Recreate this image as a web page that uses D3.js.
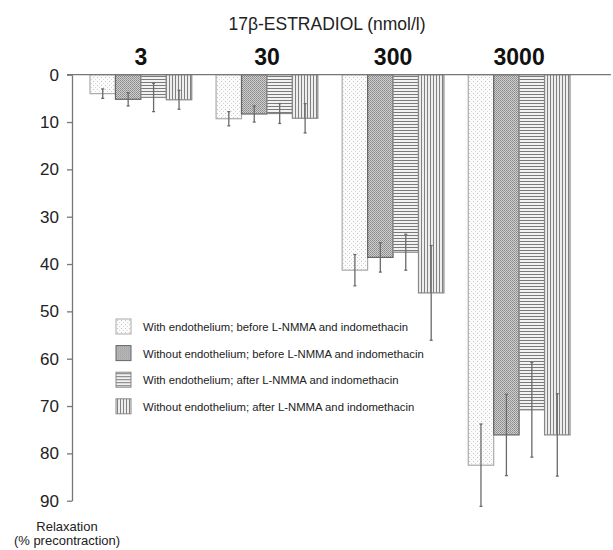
<!DOCTYPE html>
<html>
<head>
<meta charset="utf-8">
<script src="https://cdn.jsdelivr.net/npm/d3@7"></script>
<style>
  body { margin: 0; background: #fff; }
  text { font-family: "Liberation Sans", Arial, sans-serif; }
</style>
</head>
<body>
<div id="chart"></div>
<script>
// concentrations of 17beta-estradiol (nmol/l)
var concentrations = ["3", "30", "300", "3000"];

var seriesNames = [
    "With endothelium; before L-NMMA and indomethacin",
    "Without endothelium; before L-NMMA and indomethacin",
    "With endothelium; after L-NMMA and indomethacin",
    "Without endothelium; after L-NMMA and indomethacin"
];

// mean relaxation (% precontraction), one value per concentration
var withEndoBefore    = [4.0, 9.3, 41.3, 82.5];
var withoutEndoBefore = [5.2, 8.3, 38.6, 76.1];
var withEndoAfter     = [4.8, 8.2, 37.5, 70.8];
var withoutEndoAfter  = [5.3, 9.2, 46.1, 76.1];

// error bar half lengths
var errWithEndoBefore    = [1.0, 1.5, 3.3, 8.7];
var errWithoutEndoBefore = [1.4, 1.7, 3.1, 8.6];
var errWithEndoAfter     = [3.0, 2.1, 3.8, 10.0];
var errWithoutEndoAfter  = [2.0, 3.1, 10.0, 8.7];

var yTicks = [0, 10, 20, 30, 40, 50, 60, 70, 80, 90];

var means = [withEndoBefore, withoutEndoBefore, withEndoAfter, withoutEndoAfter];
var errs = [errWithEndoBefore, errWithoutEndoBefore, errWithEndoAfter, errWithoutEndoAfter];

var width = 613, height = 550;

var svg = d3.select("#chart").append("svg")
    .attr("width", width)
    .attr("height", height);

// fill patterns
var defs = svg.append("defs");

var p1 = defs.append("pattern").attr("id", "pat0")
    .attr("patternUnits", "userSpaceOnUse").attr("width", 4).attr("height", 4);
p1.append("rect").attr("width", 4).attr("height", 4).attr("fill", "#fbfbfb");
p1.append("rect").attr("x", 1).attr("y", 1).attr("width", 1).attr("height", 1).attr("fill", "#c4c4c4");
p1.append("rect").attr("x", 3).attr("y", 3).attr("width", 1).attr("height", 1).attr("fill", "#d8d8d8");

var p2 = defs.append("pattern").attr("id", "pat1")
    .attr("patternUnits", "userSpaceOnUse").attr("width", 2).attr("height", 2);
p2.append("rect").attr("width", 2).attr("height", 2).attr("fill", "#cfcfcf");
p2.append("rect").attr("width", 1).attr("height", 1).attr("fill", "#888");
p2.append("rect").attr("x", 1).attr("y", 1).attr("width", 1).attr("height", 1).attr("fill", "#999");

var p3 = defs.append("pattern").attr("id", "pat2")
    .attr("patternUnits", "userSpaceOnUse").attr("width", 3).attr("height", 3);
p3.append("rect").attr("width", 3).attr("height", 3).attr("fill", "#f2f2f2");
p3.append("rect").attr("y", 1).attr("width", 3).attr("height", 1).attr("fill", "#7a7a7a");

var p4 = defs.append("pattern").attr("id", "pat3")
    .attr("patternUnits", "userSpaceOnUse").attr("width", 3).attr("height", 3);
p4.append("rect").attr("width", 3).attr("height", 3).attr("fill", "#eee");
p4.append("rect").attr("x", 1).attr("width", 1).attr("height", 3).attr("fill", "#808080");

var strokes = ["#aaa", "#666", "#888", "#888"];

// scales
var x0 = d3.scaleBand()
    .domain(concentrations)
    .range([90, 570])
    .paddingInner(0.193)
    .paddingOuter(0);

var x1 = d3.scaleBand()
    .domain(d3.range(seriesNames.length))
    .range([0, x0.bandwidth()]);

var y = d3.scaleLinear()
    .domain([0, 90])
    .range([74.7, 500.7]);

// title
svg.append("text")
    .attr("x", 327)
    .attr("y", 30)
    .attr("text-anchor", "middle")
    .attr("font-size", "17.5px")
    .attr("fill", "#222")
    .text("17\u03B2-ESTRADIOL (nmol/l)");

// concentration labels
svg.selectAll(".conc")
    .data(concentrations)
    .enter().append("text")
    .attr("class", "conc")
    .attr("x", function(d) { return x0(d) + x0.bandwidth() / 2; })
    .attr("y", 65)
    .attr("text-anchor", "middle")
    .attr("font-size", "23px")
    .attr("font-weight", "bold")
    .attr("fill", "#111")
    .text(function(d) { return d; });

// bars
var rows = [];
means.forEach(function(vals, s) {
    vals.forEach(function(v, c) {
        rows.push({ s: s, c: concentrations[c], v: v, e: errs[s][c] });
    });
});

svg.selectAll(".bar")
    .data(rows)
    .enter().append("rect")
    .attr("class", "bar")
    .attr("x", function(d) { return x0(d.c) + x1(d.s); })
    .attr("y", y(0))
    .attr("width", x1.bandwidth())
    .attr("height", function(d) { return y(d.v) - y(0); })
    .attr("fill", function(d) { return "url(#pat" + d.s + ")"; })
    .attr("stroke", function(d) { return strokes[d.s]; })
    .attr("stroke-width", 1.2);

// error bars
var eb = svg.selectAll(".err")
    .data(rows)
    .enter().append("g")
    .attr("class", "err")
    .attr("stroke", "#6a6a6a");

eb.append("line")
    .attr("x1", function(d) { return x0(d.c) + x1(d.s) + x1.bandwidth() / 2; })
    .attr("x2", function(d) { return x0(d.c) + x1(d.s) + x1.bandwidth() / 2; })
    .attr("y1", function(d) { return y(d.v - d.e); })
    .attr("y2", function(d) { return y(d.v + d.e); })
    .attr("stroke-width", 1.3);

[-1, 1].forEach(function(sign) {
    eb.append("line")
        .attr("x1", function(d) { return x0(d.c) + x1(d.s) + x1.bandwidth() / 2 - 1.5; })
        .attr("x2", function(d) { return x0(d.c) + x1(d.s) + x1.bandwidth() / 2 + 1.5; })
        .attr("y1", function(d) { return y(d.v + sign * d.e); })
        .attr("y2", function(d) { return y(d.v + sign * d.e); })
        .attr("stroke-width", 1.3);
});

// top baseline
svg.append("line")
    .attr("x1", 67).attr("x2", 611)
    .attr("y1", y(0)).attr("y2", y(0))
    .attr("stroke", "#777")
    .attr("stroke-width", 1.3);

// y axis
var yAxis = svg.append("g")
    .attr("transform", "translate(72,0)")
    .call(d3.axisLeft(y).tickValues(yTicks).tickSize(5).tickSizeOuter(0).tickPadding(8));

yAxis.select(".domain").attr("stroke", "#777").attr("stroke-width", 1.3);
yAxis.selectAll(".tick line").attr("stroke", "#777").attr("stroke-width", 1.3);
yAxis.selectAll(".tick text")
    .attr("font-family", "'Liberation Sans', Arial, sans-serif")
    .attr("font-size", "17px")
    .attr("fill", "#222");

// axis caption
svg.append("text")
    .attr("x", 67).attr("y", 531)
    .attr("text-anchor", "middle")
    .attr("font-size", "13px")
    .attr("fill", "#222")
    .text("Relaxation");

svg.append("text")
    .attr("x", 67).attr("y", 545)
    .attr("text-anchor", "middle")
    .attr("font-size", "13px")
    .attr("fill", "#222")
    .text("(% precontraction)");

// legend
var legend = svg.selectAll(".legend")
    .data(seriesNames)
    .enter().append("g")
    .attr("class", "legend")
    .attr("transform", function(d, i) { return "translate(116," + (319 + i * 26.6) + ")"; });

legend.append("rect")
    .attr("width", 15)
    .attr("height", 15)
    .attr("fill", function(d, i) { return "url(#pat" + i + ")"; })
    .attr("stroke", function(d, i) { return strokes[i]; })
    .attr("stroke-width", 1);

legend.append("text")
    .attr("x", 27)
    .attr("y", 12)
    .attr("font-size", "11.3px")
    .attr("fill", "#222")
    .text(function(d) { return d; });
</script>
</body>
</html>
